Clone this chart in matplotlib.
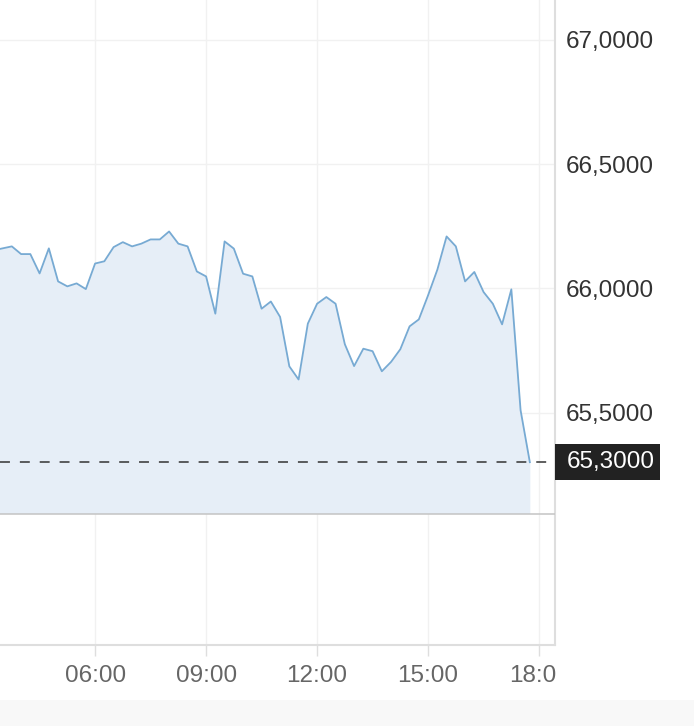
import matplotlib
matplotlib.use("Agg")
import matplotlib.pyplot as plt
from matplotlib.patches import Rectangle
from matplotlib.ticker import FuncFormatter, FixedLocator

plt.rcParams['font.family'] = ['Liberation Sans', 'DejaVu Sans']

# ---- data (15-minute prices) ----
times = ["03:15", "03:30", "03:45", "04:00", "04:15", "04:30", "04:45", "05:00",
         "05:15", "05:30", "05:45", "06:00", "06:15", "06:30", "06:45", "07:00",
         "07:15", "07:30", "07:45", "08:00", "08:15", "08:30", "08:45", "09:00",
         "09:15", "09:30", "09:45", "10:00", "10:15", "10:30", "10:45", "11:00",
         "11:15", "11:30", "11:45", "12:00", "12:15", "12:30", "12:45", "13:00",
         "13:15", "13:30", "13:45", "14:00", "14:15", "14:30", "14:45", "15:00",
         "15:15", "15:30", "15:45", "16:00", "16:15", "16:30", "16:45", "17:00",
         "17:15", "17:30", "17:45"]
prices = [66.153, 66.161, 66.169, 66.138, 66.138, 66.060, 66.161, 66.028,
          66.008, 66.020, 65.997, 66.100, 66.109, 66.166, 66.186, 66.169,
          66.180, 66.197, 66.197, 66.229, 66.180, 66.169, 66.068, 66.048,
          65.898, 66.189, 66.160, 66.059, 66.048, 65.918, 65.947, 65.885,
          65.686, 65.633, 65.858, 65.938, 65.965, 65.938, 65.775, 65.687,
          65.757, 65.747, 65.666, 65.704, 65.755, 65.847, 65.875, 65.972,
          66.075, 66.209, 66.169, 66.028, 66.066, 65.985, 65.938, 65.855,
          65.996, 65.509, 65.300]
last_price = 65.30
baseline = 65.093
y_ticks = [65.5, 66.0, 66.5, 67.0]
x_tick_labels = ["06:00", "09:00", "12:00", "15:00", "18:00"]

def to_hours(s):
    h, m = s.split(":")
    return int(h) + int(m) / 60.0

x = [to_hours(t) for t in times]
x_ticks = [to_hours(t) for t in x_tick_labels]

W, H = 694, 726
fig = plt.figure(figsize=(W / 100, H / 100), dpi=100)
fig.patch.set_facecolor("white")
ax = fig.add_axes([0, 81 / H, 555 / W, 1 - 81 / H])
ax.set_facecolor("white")

line_color = "#77aad3"
fill_color = "#e6eef7"
grid_color = "#f1f1f1"
axis_color = "#dedede"
FS = 17.5

ax.fill_between(x, prices, baseline, color=fill_color, lw=0, zorder=2)
ax.plot(x, prices, color=line_color, lw=1.3, zorder=3)
ax.axhline(baseline, color="#c4c4c4", lw=1.1, zorder=3)
ax.axhline(last_price, color="#333333", lw=1.1, dashes=(6.5, 6.5), zorder=4)

ax.set_xlim(3.43, 18.43)
ax.set_ylim(64.564, 67.161)

ax.xaxis.set_major_locator(FixedLocator(x_ticks))
ax.set_xticklabels(x_tick_labels)
ax.yaxis.set_major_locator(FixedLocator(y_ticks))
ax.yaxis.set_major_formatter(FuncFormatter(lambda v, p: f"{v:.4f}".replace(".", ",")))
ax.yaxis.tick_right()

ax.grid(True, color=grid_color, lw=1.0, zorder=0)
ax.set_axisbelow(True)

for s in ["top", "left"]:
    ax.spines[s].set_visible(False)
ax.spines["right"].set_color(axis_color)
ax.spines["right"].set_linewidth(1.5)
ax.spines["bottom"].set_color(axis_color)
ax.spines["bottom"].set_linewidth(1.5)

ax.tick_params(axis="x", length=8, width=1.0, color=axis_color, pad=6.5,
               labelsize=FS, labelcolor="#666666")
ax.tick_params(axis="y", length=0, pad=8, labelsize=FS, labelcolor="#333333")

# last price label box
ylo, yhi = ax.get_ylim()
px_per_unit = ax.get_position().height * H / (yhi - ylo)
box_w = 105 / (ax.get_position().width * W)
box_h = 36 / px_per_unit
ax.add_patch(Rectangle((1.0, last_price - box_h / 2), box_w, box_h,
                       transform=ax.get_yaxis_transform(), facecolor="#222222",
                       edgecolor="none", clip_on=False, zorder=10))
ax.text(1.0 + 12 / (ax.get_position().width * W), last_price,
        f"{last_price:.4f}".replace(".", ","),
        transform=ax.get_yaxis_transform(), ha="left", va="center",
        fontsize=FS, color="white", zorder=11, clip_on=False)

# clip the last x tick label at the right of the plot area
fig.patches.append(Rectangle((555.8 / W, 26 / H), 1 - 555.8 / W, 54 / H,
                             transform=fig.transFigure, facecolor="white",
                             edgecolor="none", zorder=20))
# light bottom band
fig.patches.append(Rectangle((0, 0), 1, 26 / H, transform=fig.transFigure,
                             facecolor="#f8f8f8", edgecolor="none", zorder=20))

fig.savefig("out.png", dpi=100)
